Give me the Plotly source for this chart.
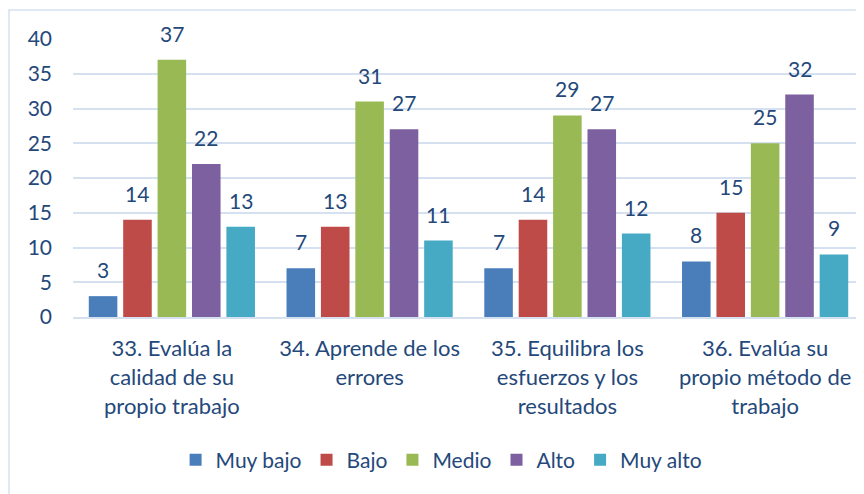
import plotly.graph_objects as go

# Datos del gráfico
categorias = ["33. Evalúa la<br>calidad de su<br>propio trabajo",
              "34. Aprende de los<br>errores",
              "35. Equilibra los<br>esfuerzos y los<br>resultados",
              "36. Evalúa su<br>propio método de<br>trabajo"]
niveles = ["Muy bajo", "Bajo", "Medio", "Alto", "Muy alto"]
muy_bajo = [3, 7, 7, 8]
bajo = [14, 13, 14, 15]
medio = [37, 31, 29, 25]
alto = [22, 27, 27, 32]
muy_alto = [13, 11, 12, 9]
series = [muy_bajo, bajo, medio, alto, muy_alto]

colores = ["#4a7ebb", "#be4b48", "#98b954", "#7d60a0", "#46aac5"]
texto = "#24487a"
fuente = "Lato, 'Open Sans', sans-serif"

# la página añade 8px de margen al body
W, H = 864, 494
ml, mr, mt, mb = 65, 8, 31, 185
bargap = 0.13

fig = go.Figure()
for nombre, valores, color in zip(niveles, series, colores):
    fig.add_trace(go.Bar(
        x=categorias, y=valores, name=nombre,
        marker=dict(color=color, line=dict(width=0)),
        cliponaxis=False,
    ))

# Etiquetas de datos sobre cada barra
ancho = (1 - bargap) / len(series)
for i, valores in enumerate(series):
    for j, v in enumerate(valores):
        fig.add_annotation(x=j - (1 - bargap) / 2 + ancho * (i + 0.5), y=v,
                           text=str(v), showarrow=False, yanchor="bottom",
                           yshift=12, font=dict(size=21, color=texto))

# Marco del gráfico (en coordenadas de papel)
pw, ph = W - ml - mr, H - mt - mb
fig.add_shape(type="rect", xref="paper", yref="paper",
              x0=(1 - ml) / pw, x1=(854 - ml) / pw,
              y0=(H - mb - 500) / ph, y1=(H - mb - 2) / ph,
              line=dict(color="#d5e1f1", width=1.5), layer="below")

fig.update_layout(
    width=W, height=H,
    margin=dict(l=ml, r=mr, t=mt, b=mb),
    paper_bgcolor="white", plot_bgcolor="white",
    barmode="group", bargap=bargap, bargroupgap=0.17,
    font=dict(family=fuente, size=21, color=texto),
    xaxis=dict(showline=True, linecolor="#d5e1f1", linewidth=2,
               tickfont=dict(size=22, color=texto), ticks="",
               ticklabelstandoff=11),
    yaxis=dict(range=[0, 40], dtick=5, showgrid=True, gridcolor="#d5e1f1",
               gridwidth=2, zeroline=False, ticks="",
               tickfont=dict(size=21, color=texto), ticklabelstandoff=20),
    legend=dict(orientation="h", x=0.466, xanchor="center", y=-0.515,
                yanchor="middle", font=dict(size=21, color=texto),
                itemwidth=30, traceorder="normal"),
)

fig.write_html("out.html")
